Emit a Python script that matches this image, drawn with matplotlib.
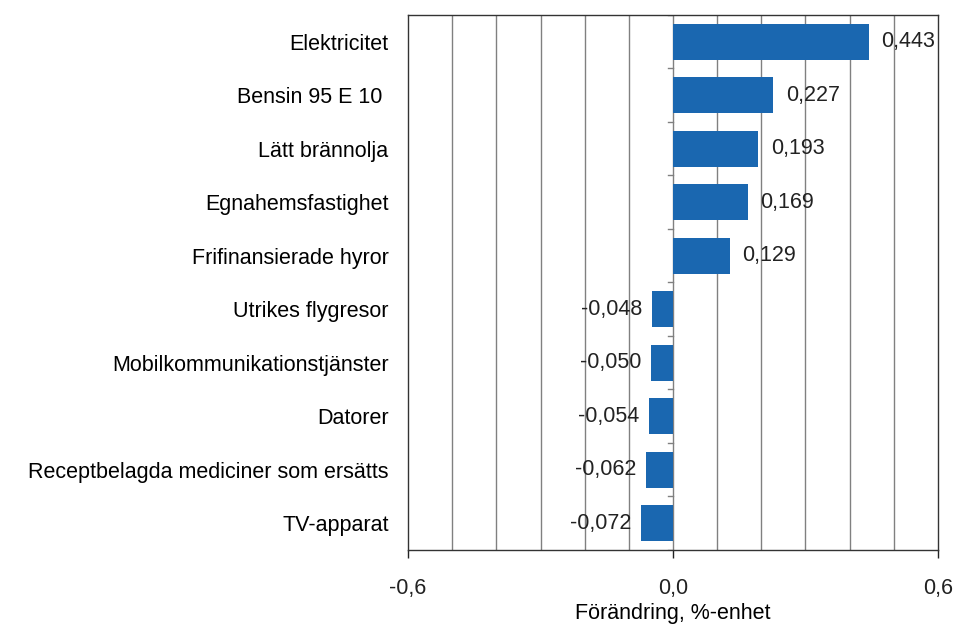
import matplotlib
matplotlib.use('Agg')
import matplotlib.pyplot as plt
import numpy as np

plt.rcParams['font.family'] = ['Liberation Sans', 'DejaVu Sans']

categories = ['Elektricitet', 'Bensin 95 E 10 ', 'Lätt brännolja', 'Egnahemsfastighet',
              'Frifinansierade hyror', 'Utrikes flygresor', 'Mobilkommunikationstjänster',
              'Datorer', 'Receptbelagda mediciner som ersätts', 'TV-apparat']
values = [0.443, 0.227, 0.193, 0.169, 0.129, -0.048, -0.050, -0.054, -0.062, -0.072]
value_labels = ['0,443', '0,227', '0,193', '0,169', '0,129',
                '-0,048', '-0,050', '-0,054', '-0,062', '-0,072']
xtick_vals = [-0.6, 0.0, 0.6]
xtick_labels = ['-0,6', '0,0', '0,6']

fs = 15.5
fig = plt.figure(figsize=(9.58, 6.27), dpi=100)
ax = fig.add_axes([408/958, 1 - 550/627, 530/958, 535/627])

y = np.arange(len(categories))
ax.barh(y, values, height=0.68, color='#1a67b0', zorder=3)

for xv in np.arange(-0.5, 0.6, 0.1):
    ax.axvline(xv, color='#808080', lw=1, zorder=1)

# small tick marks on the zero line between categories
for b in np.arange(-0.5, len(categories), 1.0):
    ax.plot([-0.012, 0], [b, b], color='#808080', lw=1, zorder=2)

for yi, v, lab in zip(y, values, value_labels):
    if v >= 0:
        ax.annotate(lab, (v, yi), xytext=(9, 0), textcoords='offset points',
                    va='center', ha='left', fontsize=fs, color='#222222', zorder=4)
    else:
        ax.annotate(lab, (v, yi), xytext=(-7, 0), textcoords='offset points',
                    va='center', ha='right', fontsize=fs, color='#222222', zorder=4)

ax.set_xlim(-0.6, 0.6)
ax.set_ylim(len(categories) - 0.5, -0.5)
ax.set_yticks(y)
ax.set_yticklabels(categories, fontsize=fs)
ax.tick_params(axis='y', length=0, pad=14)
ax.set_xticks(xtick_vals)
ax.set_xticklabels(xtick_labels, fontsize=fs)
ax.tick_params(axis='x', length=6, width=1, direction='out', pad=14, colors='#222222')
ax.set_xlabel('Förändring, %-enhet', fontsize=fs, labelpad=3)

for s in ax.spines.values():
    s.set_color('#333333')
    s.set_linewidth(1)

fig.savefig('out.png', dpi=100)
